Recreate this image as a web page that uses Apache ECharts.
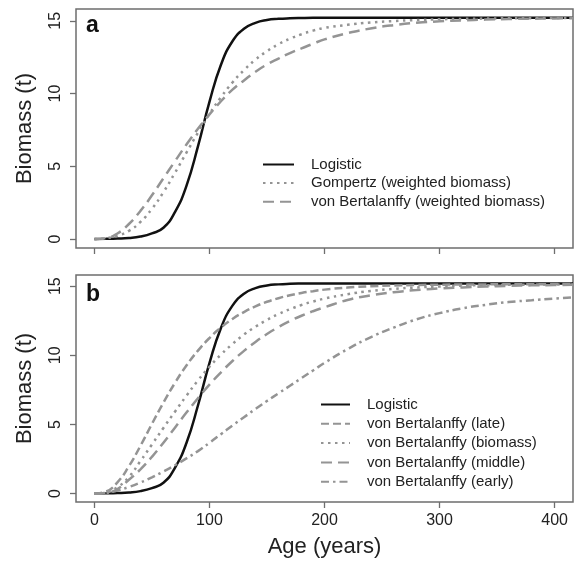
<!DOCTYPE html>
<html>
<head>
<meta charset="utf-8">
<script src="https://cdn.jsdelivr.net/npm/echarts@6/dist/echarts.min.js"></script>
<style>
html, body { margin: 0; background: #fff; }
#chart { width: 577px; height: 563px; }
</style>
</head>
<body>
<div id="chart"></div>
<script>
// stand age (years) at which every curve is read
const ages = [0, 10, 20, 30, 40, 50, 60, 70, 80, 90, 100, 110, 120, 130, 140, 150, 160, 170, 180, 190, 200,
  220, 240, 260, 280, 300, 320, 340, 360, 380, 400, 416];

// panel a
const logistic = [0.01, 0.02, 0.04, 0.08, 0.18, 0.40, 0.78, 1.86, 3.66, 6.37, 9.43, 11.98, 13.59, 14.45, 14.86, 15.05, 15.13, 15.17, 15.19, 15.2, 15.2,
  15.2, 15.2, 15.2, 15.2, 15.2, 15.2, 15.2, 15.2, 15.2, 15.2, 15.2];
const gompertzW = [0.01, 0.07, 0.23, 0.57, 1.18, 2.08, 3.23, 4.55, 5.94, 7.31, 8.60, 9.75, 10.76, 11.61, 12.33, 12.91, 13.39, 13.77, 14.07, 14.32, 14.51,
  14.72, 14.88, 14.98, 15.05, 15.1, 15.13, 15.15, 15.17, 15.18, 15.19, 15.2];
const bertalanffyW = [0, 0.06, 0.39, 1.04, 1.94, 3.01, 4.18, 5.35, 6.50, 7.58, 8.57, 9.47, 10.27, 10.9, 11.5, 12.0, 12.4, 12.78, 13.1, 13.42, 13.72,
  14.15, 14.47, 14.7, 14.86, 14.96, 15.03, 15.08, 15.12, 15.14, 15.16, 15.17];

// panel b
const bertLate = [0, 0.14, 0.81, 1.98, 3.45, 5.04, 6.58, 8.0, 9.26, 10.34, 11.25, 12.01, 12.63, 13.13, 13.54, 13.87, 14.13, 14.34, 14.51, 14.64, 14.75,
  14.9, 14.99, 15.05, 15.09, 15.11, 15.12, 15.13, 15.14, 15.14, 15.15, 15.15];
const bertBiomass = [0, 0.08, 0.46, 1.20, 2.35, 3.55, 4.75, 5.92, 7.08, 8.18, 9.17, 10.05, 10.82, 11.50, 12.07, 12.56, 12.98, 13.34, 13.64, 13.89, 14.10,
  14.42, 14.65, 14.8, 14.91, 14.98, 15.04, 15.07, 15.1, 15.11, 15.12, 15.13];
const bertMiddle = [0, 0.05, 0.33, 1.0, 1.75, 2.66, 3.68, 4.77, 5.86, 6.90, 7.88, 8.77, 9.59, 10.32, 10.97, 11.54, 12.04, 12.48, 12.86, 13.19, 13.47,
  14.0, 14.33, 14.56, 14.72, 14.84, 14.91, 14.97, 15.02, 15.06, 15.08, 15.1];
const bertEarly = [0, 0.05, 0.22, 0.48, 0.8, 1.17, 1.6, 2.05, 2.55, 3.07, 3.67, 4.3, 4.92, 5.52, 6.12, 6.7, 7.25, 7.8, 8.35, 8.9, 9.45,
  10.45, 11.3, 12.0, 12.6, 13.05, 13.4, 13.65, 13.85, 13.98, 14.1, 14.2];

const xTicks = [0, 100, 200, 300, 400];
const yTicks = [0, 5, 10, 15];

const FONT = '"Liberation Sans", Arial, Helvetica, sans-serif';
const BLACK = '#111';
const GREY = '#949494';
const FRAME = '#6e6e6e';
const DOTS = [2.5, 4.5];

const chart = echarts.init(document.getElementById('chart'));

const makeLine = (name, values, panel, color, dash) => ({
  name,
  type: 'line',
  xAxisIndex: panel,
  yAxisIndex: panel,
  data: ages.map((a, i) => [a, values[i]]),
  symbol: 'none',
  smooth: 0.5,
  lineStyle: { color, width: 2.5, type: dash, cap: 'butt' },
  itemStyle: { color },
  emphasis: { disabled: true },
  animation: false,
});

const makeXAxis = (panel, withLabels) => ({
  gridIndex: panel,
  type: 'value',
  min: -16,
  max: 416,
  splitLine: { show: false },
  axisLine: { show: false, onZero: false },
  axisTick: { customValues: xTicks, length: 6, lineStyle: { color: FRAME, width: 1.3 } },
  axisLabel: { show: withLabels, customValues: xTicks, fontSize: 16, color: '#222', fontFamily: FONT, margin: 11 },
  name: withLabels ? 'Age (years)' : '',
  nameLocation: 'middle',
  nameGap: 34,
  nameTextStyle: { fontSize: 22, color: '#222', fontFamily: FONT },
});

const makeYAxis = (panel) => ({
  gridIndex: panel,
  type: 'value',
  min: -0.608,
  max: 15.808,
  splitLine: { show: false },
  axisLine: { show: false, onZero: false },
  axisTick: { customValues: yTicks, length: 6, lineStyle: { color: FRAME, width: 1.3 } },
  axisLabel: { customValues: yTicks, rotate: 90, fontSize: 16, color: '#222', fontFamily: FONT, margin: 12 },
  name: 'Biomass (t)',
  nameLocation: 'middle',
  nameGap: 40,
  nameTextStyle: { fontSize: 22, color: '#222', fontFamily: FONT },
});

const legendText = (pad) => ({ fontSize: 15, color: '#222', fontFamily: FONT, padding: [0, 0, 0, pad] });
// line-only keys, as in the printed figure
const noMarker = { color: 'transparent', borderColor: 'transparent', borderWidth: 0, opacity: 0 };

chart.setOption({
  animation: false,
  title: [
    { text: 'a', left: 86, top: 14, padding: 0, textStyle: { fontSize: 23, fontWeight: 'bold', color: BLACK, fontFamily: FONT } },
    { text: 'b', left: 86, top: 283, padding: 0, textStyle: { fontSize: 23, fontWeight: 'bold', color: BLACK, fontFamily: FONT } },
  ],
  grid: [
    { left: 76, top: 9, width: 497, height: 239, show: true, borderColor: FRAME, borderWidth: 1.5, backgroundColor: 'transparent' },
    { left: 76, top: 275, width: 497, height: 227, show: true, borderColor: FRAME, borderWidth: 1.5, backgroundColor: 'transparent' },
  ],
  xAxis: [makeXAxis(0, false), makeXAxis(1, true)],
  yAxis: [makeYAxis(0), makeYAxis(1)],
  legend: [
    {
      data: ['Logistic', 'Gompertz (weighted biomass)', 'von Bertalanffy (weighted biomass)'],
      orient: 'vertical', left: 262, top: 157, padding: 0,
      itemWidth: 31, itemHeight: 14, itemGap: 3.6,
      itemStyle: noMarker,
      textStyle: legendText(12),
      selectedMode: false,
    },
    {
      data: ['Logistic', 'von Bertalanffy (late)', 'von Bertalanffy (biomass)', 'von Bertalanffy (middle)', 'von Bertalanffy (early)'],
      orient: 'vertical', left: 320, top: 397, padding: 0,
      itemWidth: 29, itemHeight: 14, itemGap: 4.3,
      itemStyle: noMarker,
      textStyle: legendText(12),
      selectedMode: false,
    },
  ],
  series: [
    makeLine('Logistic', logistic, 0, BLACK, 'solid'),
    makeLine('Gompertz (weighted biomass)', gompertzW, 0, GREY, DOTS),
    makeLine('von Bertalanffy (weighted biomass)', bertalanffyW, 0, GREY, [11, 6]),
    makeLine('Logistic', logistic, 1, BLACK, 'solid'),
    makeLine('von Bertalanffy (late)', bertLate, 1, GREY, [8, 4]),
    makeLine('von Bertalanffy (biomass)', bertBiomass, 1, GREY, DOTS),
    makeLine('von Bertalanffy (middle)', bertMiddle, 1, GREY, [11, 6]),
    makeLine('von Bertalanffy (early)', bertEarly, 1, GREY, [8, 4, 2.5, 4]),
  ],
});

window.addEventListener('resize', () => chart.resize());
</script>
</body>
</html>
